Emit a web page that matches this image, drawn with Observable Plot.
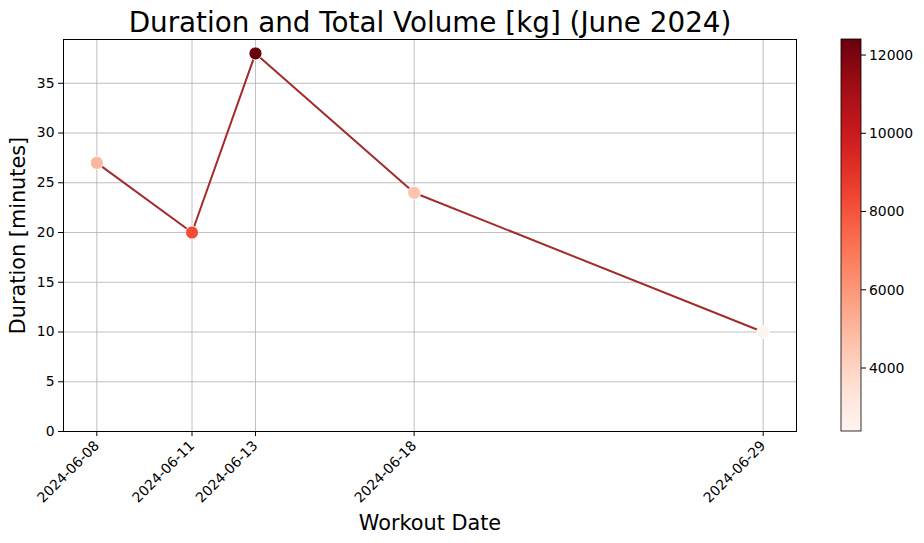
<!DOCTYPE html>
<html>
<head>
<meta charset="utf-8">
<script src="https://cdn.jsdelivr.net/npm/d3@7"></script>
<script src="https://cdn.jsdelivr.net/npm/@observablehq/plot@0.6"></script>
<style>
  body { margin: 0; background: white; }
  #chart svg { display: block; }
</style>
</head>
<body>
<div id="chart"></div>
<script>
// valores
const dates = ["2024-06-08", "2024-06-11", "2024-06-13", "2024-06-18", "2024-06-29"];
const durations = [27, 20, 38, 24, 10];
const volumes = [5000, 8200, 12410, 4600, 2390];
const yTicks = [0, 5, 10, 15, 20, 25, 30, 35];
const cbarTicks = [4000, 6000, 8000, 10000, 12000];

const parse = d3.utcParse("%Y-%m-%d");
const dateObjs = dates.map(parse);
let data = dates.map((d, i) => ({date: dateObjs[i], duration: durations[i], volume: volumes[i]}));

const day = 864e5;
const xDomain = [new Date(+dateObjs[0] - 1.05 * day), new Date(+dateObjs[dateObjs.length - 1] + 1.05 * day)];
const vDomain = [d3.min(volumes), d3.max(volumes)];

const font = "DejaVu Sans";
const grid = {stroke: "#b0b0b0", strokeOpacity: 1, strokeWidth: 0.8};

let chart = Plot.plot({
  width: 924,
  height: 543,
  marginLeft: 63,
  marginRight: 128,
  marginTop: 39,
  marginBottom: 112,
  style: {fontFamily: font, fontSize: "13.9px", color: "black", background: "white"},
  x: {type: "utc", domain: xDomain},
  y: {domain: [0, 39.4]},
  color: {type: "linear", scheme: "reds", domain: vDomain},
  marks: [
    Plot.gridX(dateObjs, grid),
    Plot.gridY(yTicks, grid),
    Plot.axisX(dateObjs, {
      tickFormat: d3.utcFormat("%Y-%m-%d"),
      tickRotate: -45,
      tickSize: 5,
      label: null,
      fontSize: 13.9
    }),
    Plot.axisY(yTicks, {tickSize: 5, label: null, fontSize: 13.9}),
    Plot.lineY(data, {x: "date", y: "duration", stroke: "#a52a2a", strokeWidth: 2}),
    Plot.dot(data, {x: "date", y: "duration", fill: "volume", r: 6.5, stroke: "white", strokeWidth: 0.8}),
    Plot.frame({stroke: "black", strokeWidth: 1}),
    Plot.text(["Duration and Total Volume [kg] (June 2024)"], {
      frameAnchor: "top", lineAnchor: "bottom", dy: -8, fontSize: 27.8, fill: "black"
    }),
    Plot.text(["Workout Date"], {
      frameAnchor: "bottom", lineAnchor: "middle", dy: 92, fontSize: 20.8, fill: "black"
    }),
    Plot.text(["Duration [minutes]"], {
      frameAnchor: "left", textAnchor: "middle", lineAnchor: "middle", rotate: -90, dx: -45, fontSize: 20.8, fill: "black"
    })
  ]
});

// barra de color vertical a la derecha
const svg = d3.select(chart);
const color = chart.scale("color");
const cb = {x: 841, y: 39, w: 20, h: 392};
const grad = svg.append("defs").append("linearGradient")
  .attr("id", "cbar").attr("x1", 0).attr("y1", 1).attr("x2", 0).attr("y2", 0);
d3.range(0, 1.0001, 0.05).forEach(t => {
  grad.append("stop").attr("offset", t)
    .attr("stop-color", color.apply(vDomain[0] + t * (vDomain[1] - vDomain[0])));
});
svg.append("rect")
  .attr("x", cb.x).attr("y", cb.y).attr("width", cb.w).attr("height", cb.h)
  .attr("fill", "url(#cbar)").attr("stroke", "black").attr("stroke-width", 0.8);
const cy = d3.scaleLinear(vDomain, [cb.y + cb.h, cb.y]);
const g = svg.append("g");
g.selectAll("line").data(cbarTicks).join("line")
  .attr("x1", cb.x + cb.w).attr("x2", cb.x + cb.w + 5)
  .attr("y1", d => cy(d)).attr("y2", d => cy(d)).attr("stroke", "black");
g.selectAll("text").data(cbarTicks).join("text")
  .attr("x", cb.x + cb.w + 8).attr("y", d => cy(d)).attr("dy", "0.35em")
  .attr("text-anchor", "start")
  .attr("font-family", font).attr("font-size", 13.9).attr("fill", "black")
  .text(d => d);

d3.select("#chart").append(() => chart);
</script>
</body>
</html>
